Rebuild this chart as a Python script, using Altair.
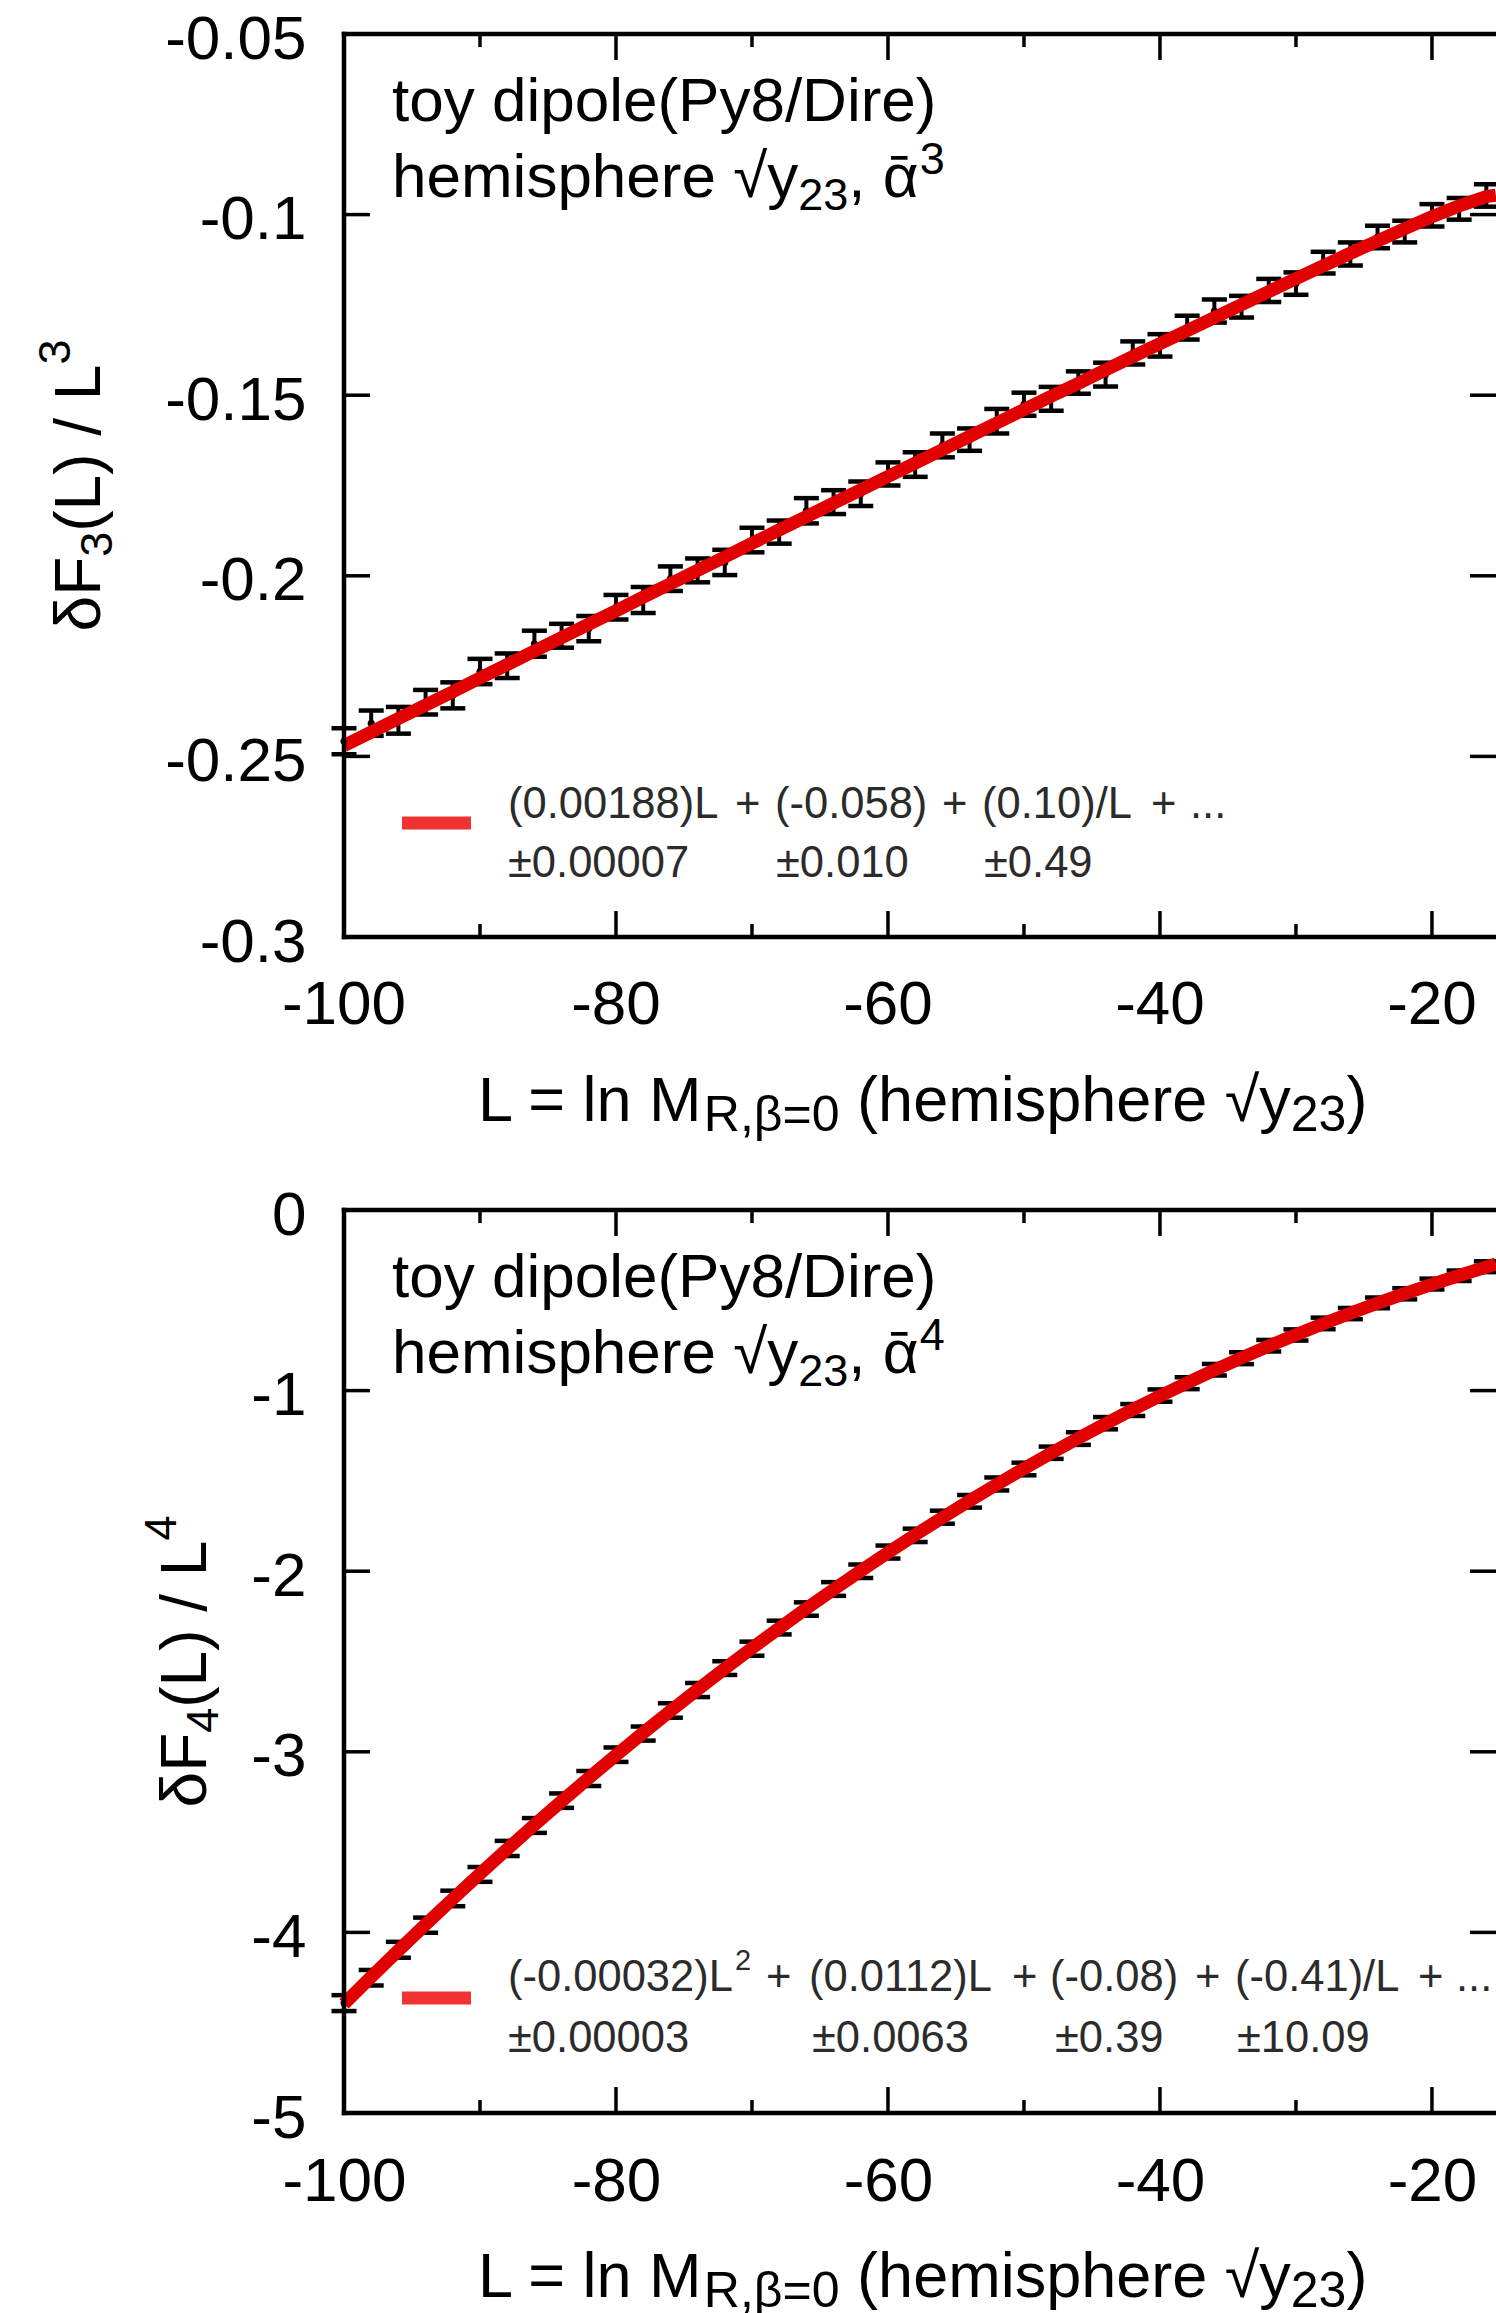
import altair as alt
import pandas as pd

FONT = "Liberation Sans, Arial, Helvetica, DejaVu Sans, sans-serif"

# ---------------- data ----------------
L_points = [-100, -98, -96, -94, -92, -90, -88, -86, -84, -82, -80, -78, -76, -74,
            -72, -70, -68, -66, -64, -62, -60, -58, -56, -54, -52, -50, -48, -46,
            -44, -42, -40, -38, -36, -34, -32, -30, -28, -26, -24, -22, -20, -18, -16]

dF3_points = [-0.2458, -0.2408, -0.2400, -0.2350, -0.2331, -0.2265, -0.2249, -0.2188,
              -0.2166, -0.2146, -0.2087, -0.2067, -0.2008, -0.1985, -0.1963, -0.1901,
              -0.1879, -0.1820, -0.1796, -0.1773, -0.1718, -0.1692, -0.1639, -0.1623,
              -0.1572, -0.1525, -0.1510, -0.1465, -0.1443, -0.1383, -0.1362, -0.1313,
              -0.1267, -0.1255, -0.1210, -0.1191, -0.1133, -0.1109, -0.1062, -0.1047,
              -0.1002, -0.0984, -0.0947]
dF3_err = [0.0036, 0.0035, 0.0037, 0.0034, 0.0036, 0.0035, 0.0034, 0.0036, 0.0033, 0.0035,
           0.0034, 0.0036, 0.0034, 0.0033, 0.0035, 0.0034, 0.0032, 0.0035, 0.0033, 0.0034,
           0.0032, 0.0034, 0.0033, 0.0031, 0.0034, 0.0032, 0.0033, 0.0031, 0.0033, 0.0032,
           0.0031, 0.0033, 0.0032, 0.0030, 0.0032, 0.0031, 0.0030, 0.0032, 0.0031, 0.0030,
           0.0031, 0.0030, 0.0031]

L_fit = L_points + [-15.3]
fit3 = [-0.2470, -0.2433, -0.2395, -0.2358, -0.2321, -0.2283, -0.2246, -0.2208, -0.2171,
        -0.2134, -0.2097, -0.2059, -0.2022, -0.1985, -0.1948, -0.1910, -0.1873, -0.1836,
        -0.1799, -0.1762, -0.1725, -0.1688, -0.1651, -0.1614, -0.1577, -0.1540, -0.1503,
        -0.1467, -0.1430, -0.1393, -0.1357, -0.1321, -0.1285, -0.1249, -0.1213, -0.1177,
        -0.1142, -0.1107, -0.1073, -0.1039, -0.1006, -0.0976, -0.0950, -0.0946]

dF4_points = [-4.3915, -4.2510, -4.0962, -3.9601, -3.8120, -3.6790, -3.5351, -3.4080,
              -3.2705, -3.1480, -3.0160, -2.8990, -2.7712, -2.6580, -2.5365, -2.4290,
              -2.3120, -2.2095, -2.0985, -2.0005, -1.8940, -1.8015, -1.7010, -1.6130,
              -1.5170, -1.4340, -1.3440, -1.2655, -1.1805, -1.1075, -1.0275, -0.9590,
              -0.8845, -0.8205, -0.7515, -0.6920, -0.6280, -0.5735, -0.5145, -0.4640,
              -0.4100, -0.3640, -0.3140]
dF4_err = [0.044, 0.043, 0.044, 0.042, 0.043, 0.041, 0.042, 0.041, 0.040, 0.041,
           0.040, 0.039, 0.040, 0.039, 0.038, 0.039, 0.038, 0.037, 0.038, 0.037,
           0.036, 0.037, 0.036, 0.035, 0.036, 0.035, 0.034, 0.035, 0.034, 0.033,
           0.034, 0.033, 0.032, 0.033, 0.032, 0.031, 0.032, 0.031, 0.030, 0.031,
           0.030, 0.029, 0.030]
fit4 = [-4.3959, -4.2467, -4.1001, -3.9560, -3.8144, -3.6754, -3.5390, -3.4052, -3.2738,
        -3.1451, -3.0189, -2.8952, -2.7741, -2.6556, -2.5396, -2.4261, -2.3153, -2.2069,
        -2.1011, -1.9979, -1.8972, -1.7990, -1.7034, -1.6103, -1.5198, -1.4318, -1.3463,
        -1.2634, -1.1830, -1.1051, -1.0298, -0.9569, -0.8865, -0.8187, -0.7533, -0.6903,
        -0.6298, -0.5718, -0.5160, -0.4626, -0.4115, -0.3625, -0.3155, -0.2995]

x_major = [-100, -80, -60, -40, -20]
x_major_labels = ["-100", "-80", "-60", "-40", "-20"]
x_minor = [-90, -70, -50, -30]
y3_ticks = [-0.3, -0.25, -0.2, -0.15, -0.1, -0.05]
y4_ticks = [-5, -4, -3, -2, -1, 0]

# ---------------- layout (pixels, relative to plot origin) ----------------
PLOT_W = 1152
TOTAL_H = 2079
TOP_Y0, TOP_Y1 = 0, 903
BOT_Y0, BOT_Y1 = 1176, 2079
X_END = -15.29

FS = 62
SMALL = 45
LEG_FS = 43.5
RED = "#e00000"
LEG_RED = "#f03232"

XS = alt.Scale(domain=[-100, X_END], nice=False, zero=False)
XAX = alt.Axis(values=x_major,
               labelExpr="datum.value < 0 ? '-' + format(-datum.value, 'd') : format(datum.value, 'd')")
Y3S = alt.Scale(domain=[-0.3, -0.05], range=[TOP_Y1, TOP_Y0], nice=False, zero=False)
Y4S = alt.Scale(domain=[-5, 0], range=[BOT_Y1, BOT_Y0], nice=False, zero=False)

W_EM = {' ': .278, '(': .333, ')': .333, '+': .584, ',': .278, '-': .333, '.': .278,
        '/': .278, '=': .584, 'L': .556, 'M': .833, 'F': .611, 'P': .667, 'D': .722,
        'R': .722, 'a': .556, 'd': .556, 'e': .556, 'h': .556, 'i': .222, 'l': .222,
        'm': .833, 'n': .556, 'o': .556, 'p': .556, 'r': .333, 's': .5, 't': .278,
        'y': .5, 'δ': .556, 'β': .575, '√': .549, 'ᾱ': .60, '±': .584}
for _d in "0123456789":
    W_EM[_d] = .556

ONE = pd.DataFrame({"k": [0]})


def text_w(s, size):
    return sum(W_EM.get(c, .556) for c in s) * size


def txt(s, x, y, size, angle=0, align="left", baseline="alphabetic", color="black"):
    props = dict(text=s, font=FONT, fontSize=size, align=align, baseline=baseline, color=color)
    if angle:
        props["angle"] = angle
    return alt.Chart(ONE).mark_text(**props).encode(x=alt.value(x), y=alt.value(y))


def rich_len(pieces, size, small):
    return sum(text_w(s, size if k == "n" else small) for s, k in pieces)


def rich(pieces, x0, y0, size, small, sub_dy, sup_dy, angle=0, color="black"):
    out = []
    pos = 0.0
    for s, kind in pieces:
        fs = size if kind == "n" else small
        lead = len(s) - len(s.lstrip(" "))
        trail = len(s) - len(s.rstrip(" "))
        body = s.strip(" ")
        pos += lead * W_EM[" "] * fs
        off = {"n": 0, "sub": sub_dy, "sup": sup_dy}[kind]
        if angle:
            out.append(txt(body, x0 + off, y0 - pos, fs, angle=angle, color=color))
        else:
            out.append(txt(body, x0 + pos, y0 + off, fs, color=color))
        pos += text_w(body, fs) + trail * W_EM[" "] * fs
    return out


def xenc(field):
    return alt.X(f"{field}:Q", scale=XS, title=None, axis=XAX)


def rule_val(x1, x2, y1, y2, width=4.5):
    enc = dict(x=alt.value(x1), y=alt.value(y1))
    if x2 is not None:
        enc["x2"] = alt.value(x2)
    if y2 is not None:
        enc["y2"] = alt.value(y2)
    return alt.Chart(ONE).mark_rule(color="black", strokeWidth=width, strokeCap="square").encode(**enc)


def panel(vals, errs, fits, yscale, yticks, y_label_expr, y0, y1, draw_x_labels,
          ytitle_pieces, ytitle_x, legend_items, leg_y, sup_legend, alpha_power):
    df = pd.DataFrame({"L": L_points, "v": vals, "e": errs})
    df["lo"] = df["v"] - df["e"]
    df["hi"] = df["v"] + df["e"]
    dfit = pd.DataFrame({"L": L_fit, "f": fits})
    dyt = pd.DataFrame({"t": yticks})
    dxM = pd.DataFrame({"t": x_major, "lab": x_major_labels})
    dxm = pd.DataFrame({"t": x_minor})

    yaxis = alt.Axis(orient="left", values=yticks, labelExpr=y_label_expr, labelOffset=5)

    def yenc(field):
        return alt.Y(f"{field}:Q", scale=yscale, title=None, axis=yaxis)

    layers = []
    # error bars
    layers.append(alt.Chart(df).mark_rule(color="black", strokeWidth=4).encode(
        x=xenc("L"), y=yenc("lo"), y2="hi:Q"))
    for f in ("lo", "hi"):
        layers.append(alt.Chart(df).mark_tick(orient="horizontal", size=25, thickness=4.5,
                                              color="black", opacity=1).encode(
            x=xenc("L"), y=yenc(f)))
    layers.append(alt.Chart(df).mark_circle(size=50, color="black", opacity=1).encode(
        x=xenc("L"), y=yenc("v")))
    # fitted curve
    layers.append(alt.Chart(dfit).mark_line(color=RED, strokeWidth=13).encode(
        x=xenc("L"), y=yenc("f")))
    # frame
    layers.append(rule_val(0, PLOT_W, y0, None))
    layers.append(rule_val(0, PLOT_W, y1, None))
    layers.append(rule_val(0, None, y0, y1))
    # y ticks (left and right)
    layers.append(alt.Chart(dyt).mark_rule(color="black", strokeWidth=3.5).encode(
        y=yenc("t"), x=alt.value(0), x2=alt.value(26)))
    layers.append(alt.Chart(dyt).mark_rule(color="black", strokeWidth=3.5).encode(
        y=yenc("t"), x=alt.value(PLOT_W - 26), x2=alt.value(PLOT_W)))
    # x ticks (bottom and top, major and minor)
    for d, ln in ((dxM, 26), (dxm, 13)):
        layers.append(alt.Chart(d).mark_rule(color="black", strokeWidth=3.5).encode(
            x=xenc("t"), y=alt.value(y1), y2=alt.value(y1 - ln)))
        layers.append(alt.Chart(d).mark_rule(color="black", strokeWidth=3.5).encode(
            x=xenc("t"), y=alt.value(y0), y2=alt.value(y0 + ln)))
    if draw_x_labels:
        layers.append(alt.Chart(dxM).mark_text(font=FONT, fontSize=FS, baseline="top",
                                               align="center", color="black").encode(
            x=xenc("t"), y=alt.value(y1 + 38), text="lab:N"))
    # annotation in the upper left
    layers.append(txt("toy dipole(Py8/Dire)", 48, y0 + 87, FS))
    layers += rich([("hemisphere √y", "n"), ("23", "sub"), (", ᾱ", "n"), (alpha_power, "sup")],
                   48, y0 + 163, FS, SMALL, 13, -23)
    # x-axis title
    layers += rich([("L = ln M", "n"), ("R,β=0", "sub"), (" (hemisphere √y", "n"),
                    ("23", "sub"), (")", "n")],
                   134, y1 + 184, 63, 50, 10, -24)
    # y-axis title (rotated)
    tot = rich_len(ytitle_pieces, 64, SMALL)
    center = (y0 + y1) / 2
    layers += rich(ytitle_pieces, ytitle_x, center + tot / 2, 64, SMALL, 12, -30, angle=270)
    # legend
    layers.append(alt.Chart(ONE).mark_rule(color=LEG_RED, strokeWidth=13).encode(
        x=alt.value(58), x2=alt.value(127), y=alt.value(leg_y)))
    for s, x, yy in legend_items:
        layers.append(txt(s, x, yy, LEG_FS, color="#2b2b2b"))
    for s, x, yy in sup_legend:
        layers.append(txt(s, x, yy, 29, color="#2b2b2b"))
    return alt.layer(*layers)


# top panel legend pieces (text, x, baseline y)
T1 = TOP_Y0 + 784
T2 = TOP_Y0 + 843
top_legend = [("(0.00188)L", 164, T1), ("+", 391, T1), ("(-0.058)", 431, T1), ("+", 598, T1),
              ("(0.10)/L", 638, T1), ("+", 807, T1), ("...", 846, T1),
              ("±0.00007", 164, T2), ("±0.010", 432, T2), ("±0.49", 640, T2)]

B1 = BOT_Y0 + 781
B2 = BOT_Y0 + 842
bot_legend = [("(-0.00032)L", 164, B1), ("+", 422, B1), ("(0.0112)L", 465, B1), ("+", 668, B1),
              ("(-0.08)", 706, B1), ("+", 851, B1), ("(-0.41)/L", 891, B1), ("+", 1074, B1),
              ("...", 1112, B1),
              ("±0.00003", 164, B2), ("±0.0063", 468, B2), ("±0.39", 711, B2), ("±10.09", 893, B2)]
bot_sup = [("2", 391, B1 - 21)]

top = panel(dF3_points, dF3_err, fit3, Y3S, y3_ticks,
            "'-' + format(-datum.value, '~g')", TOP_Y0, TOP_Y1, True,
            [("δF", "n"), ("3", "sub"), ("(L) / L", "n"), ("3", "sup")], -244,
            top_legend, TOP_Y0 + 789, [], "3")

bottom = panel(dF4_points, dF4_err, fit4, Y4S, y4_ticks,
               "datum.value < 0 ? '-' + format(-datum.value, '~g') : '0'", BOT_Y0, BOT_Y1, False,
               [("δF", "n"), ("4", "sub"), ("(L) / L", "n"), ("4", "sup")], -138,
               bot_legend, BOT_Y0 + 788, bot_sup, "4")

chart = alt.layer(top, bottom).resolve_scale(y="independent").properties(
    width=PLOT_W,
    height=TOTAL_H,
    autosize=alt.AutoSizeParams(type="none"),
    padding={"left": 344, "top": 34, "right": 0, "bottom": 200},
    background="white",
).configure_view(strokeWidth=0).configure_axis(
    domain=False, ticks=False, grid=False, tickSize=0,
    labelFont=FONT, labelFontSize=FS, labelColor="black",
    labelPadding=38, labelFlush=False, labelOverlap=False,
)

chart.save("out.html", embed_options={"renderer": "svg", "actions": False})
